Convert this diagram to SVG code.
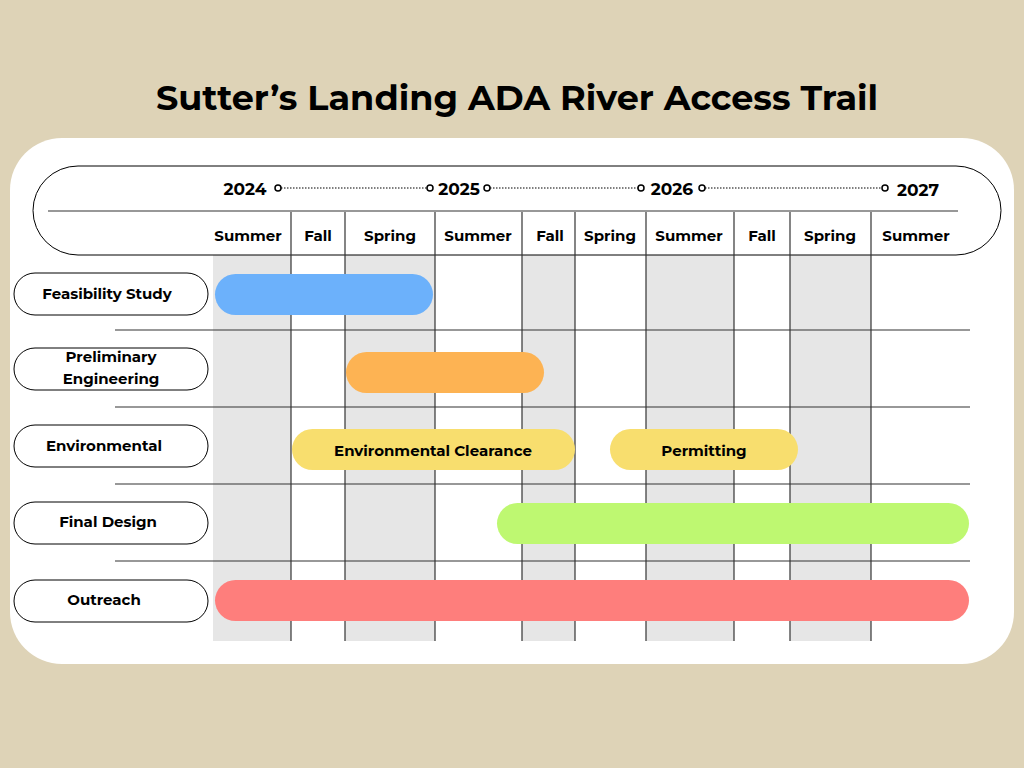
<svg xmlns="http://www.w3.org/2000/svg" width="1024" height="768" viewBox="0 0 1024 768">
<style>
text{font-family:"Montserrat","Noto Sans","Liberation Sans",sans-serif;font-weight:bold;fill:#000}
.h{font-size:15px;text-anchor:middle}
.l{font-size:15px;text-anchor:middle}
.pill{fill:#fff;stroke:#000;stroke-width:1}
.g{fill:#e6e6e6}
.v{stroke:#333;stroke-width:1.2}
.r{stroke:#333;stroke-width:1.2}
.dot{stroke:#000;stroke-width:1.2;stroke-dasharray:1.5 1.5}
.c{fill:#fff;stroke:#000;stroke-width:1.5}
</style>
<rect width="1024" height="768" fill="#ded3b7"/>
<text x="517" y="110" style="font-size:35px" text-anchor="middle">Sutter’s Landing ADA River Access Trail</text>
<rect x="10" y="138" width="1004" height="526" rx="52" fill="#fff"/>
<g id="grid">
<rect class="g" x="213" y="255" width="78" height="386"/>
<rect class="g" x="345" y="255" width="90" height="386"/>
<rect class="g" x="522" y="255" width="53" height="386"/>
<rect class="g" x="646" y="255" width="88" height="386"/>
<rect class="g" x="790" y="255" width="81" height="386"/>
<rect class="pill" x="33" y="166" width="968" height="89" rx="45" fill="none"/>
<line class="r" x1="48" y1="211" x2="958" y2="211"/>
<g class="v">
<line x1="291" y1="212" x2="291" y2="641"/><line x1="345" y1="212" x2="345" y2="641"/>
<line x1="435" y1="212" x2="435" y2="641"/><line x1="522" y1="212" x2="522" y2="641"/>
<line x1="575" y1="212" x2="575" y2="641"/><line x1="646" y1="212" x2="646" y2="641"/>
<line x1="734" y1="212" x2="734" y2="641"/><line x1="790" y1="212" x2="790" y2="641"/>
<line x1="871" y1="212" x2="871" y2="641"/>
</g>
<g class="r">
<line x1="115" y1="330" x2="970" y2="330"/><line x1="115" y1="407" x2="970" y2="407"/>
<line x1="115" y1="484" x2="970" y2="484"/><line x1="115" y1="561" x2="970" y2="561"/>
</g>
<text class="h" x="248" y="241">Summer</text><text class="h" x="318" y="241">Fall</text>
<text class="h" x="390" y="241">Spring</text><text class="h" x="478" y="241">Summer</text>
<text class="h" x="550" y="241">Fall</text><text class="h" x="610" y="241">Spring</text>
<text class="h" x="689" y="241">Summer</text><text class="h" x="762" y="241">Fall</text>
<text class="h" x="830" y="241">Spring</text><text class="h" x="916" y="241">Summer</text>
</g>
<g id="timeline">
<line class="dot" x1="281" y1="188" x2="428" y2="188"/>
<line class="dot" x1="490" y1="188" x2="639" y2="188"/>
<line class="dot" x1="705" y1="188" x2="883" y2="188"/>
<circle class="c" cx="278" cy="188" r="3"/><circle class="c" cx="430" cy="188" r="3"/>
<circle class="c" cx="487" cy="188" r="3"/><circle class="c" cx="641" cy="188" r="3"/>
<circle class="c" cx="702" cy="188" r="3"/><circle class="c" cx="885" cy="188" r="3"/>
<text x="245" y="195" style="font-size:17px" text-anchor="middle">2024</text>
<text x="459" y="195" style="font-size:17px" text-anchor="middle">2025</text>
<text x="672" y="195" style="font-size:17px" text-anchor="middle">2026</text>
<text x="918" y="196" style="font-size:17px" text-anchor="middle">2027</text>
</g>
<g id="feasibility"><rect class="pill" x="14" y="273" width="194" height="42" rx="21"/><text class="l" x="107" y="299">Feasibility Study</text>
<rect x="215" y="274" width="218" height="41" rx="20.5" fill="#6cb1fb"/></g>
<g id="preliminary"><rect class="pill" x="14" y="348" width="194" height="42" rx="21"/><text class="l" x="111" y="362">Preliminary</text><text class="l" x="111" y="384">Engineering</text>
<rect x="346" y="352" width="198" height="41" rx="20.5" fill="#fdb353"/></g>
<g id="environmental"><rect class="pill" x="14" y="425" width="194" height="42" rx="21"/><text class="l" x="104" y="451">Environmental</text>
<rect x="292" y="429" width="283" height="41" rx="20.5" fill="#f8de6e"/><text class="h" x="433" y="456">Environmental Clearance</text>
<rect x="610" y="429" width="188" height="41" rx="20.5" fill="#f8de6e"/><text class="h" x="704" y="456">Permitting</text></g>
<g id="final"><rect class="pill" x="14" y="502" width="194" height="42" rx="21"/><text class="l" x="108" y="527">Final Design</text>
<rect x="497" y="503" width="472" height="41" rx="20.5" fill="#bef871"/></g>
<g id="outreach"><rect class="pill" x="14" y="580" width="194" height="42" rx="21"/><text class="l" x="104" y="605">Outreach</text>
<rect x="215" y="580" width="754" height="41" rx="20.5" fill="#fe7e7c"/></g>
</svg>
